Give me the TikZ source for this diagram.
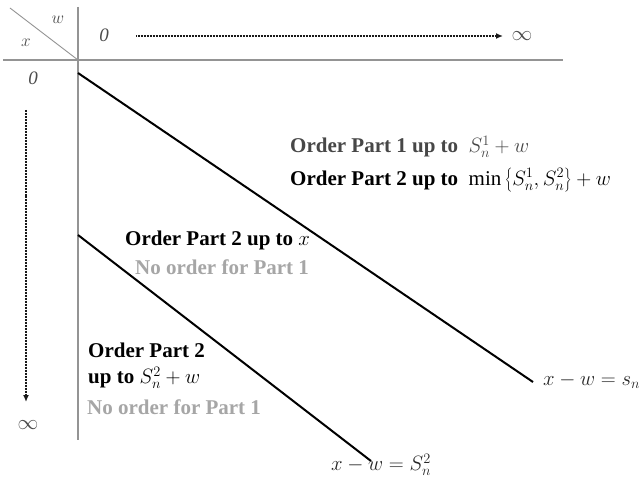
\documentclass[tikz,border=0pt]{standalone}
\usepackage{fontspec}
\setmainfont{Liberation Serif}
\usetikzlibrary{arrows.meta}
\begin{document}
\begin{tikzpicture}[x=1pt,y=-1pt,
  axis/.style={draw=black!42, line width=1.4pt},
  diag/.style={draw=black, line width=2pt},
  dotarrow/.style={draw=black!90, line width=1.6pt, dash pattern=on 1pt off 0.5pt, -{Latex[length=7pt,width=6pt]}},
  hdr/.style={font=\fontsize{19}{21}\selectfont\itshape, text=black!70, inner sep=0pt},
  lbl/.style={font=\fontsize{21}{23}\selectfont\bfseries, anchor=west, inner sep=0pt},
  eq/.style={font=\fontsize{22}{24}\selectfont, anchor=west, inner sep=0pt, text=black!85},
  graytxt/.style={text=black!35}]
\clip (0,0) rectangle (644,486);
\fill[white] (0,0) rectangle (644,486);
% axes
\coordinate (hl) at (3,60); \coordinate (hr) at (563,60);
\coordinate (vt) at (78,7); \coordinate (vb) at (78,440);
\coordinate (c0) at (10,8); \coordinate (c1) at (78,60);
\draw[axis] (hl) -- (hr);
\draw[axis] (vt) -- (vb);
\draw[axis, line width=0.9pt] (c0) -- (c1);
% header
\node[hdr] (hw) at (58,20) {$w$};
\node[hdr] (hx) at (26,43) {$x$};
\node[hdr] (h0) at (104,35) {0};
\node[hdr, font=\fontsize{20}{22}\selectfont] (hinf) at (522,36) {$\infty$};
\coordinate (ha) at (136,36); \coordinate (hb) at (503,36);
\draw[dotarrow] (ha) -- (hb);
% left column
\node[hdr] (v0) at (33,78) {0};
\node[hdr, font=\fontsize{20}{22}\selectfont] (vinf) at (28,425) {$\infty$};
\coordinate (va) at (26,110); \coordinate (vbb) at (26,402);
\draw[dotarrow] (va) -- (vbb);
% diagonal lines
\coordinate (d1s) at (78,73); \coordinate (d1e) at (533,382);
\coordinate (d2s) at (78,235); \coordinate (d2e) at (371,461);
\draw[diag] (d1s) -- (d1e);
\draw[diag] (d2s) -- (d2e);
\node[eq] (e1) at (543,381) {$x - w = s_n$};
\node[eq] (e2) at (331,465) {$x - w = S_n^2$};
% region texts
\node[lbl, text=black!72] (t1) at (290,147) {Order Part 1 up to \ $S_n^1 + w$};
\node[lbl] (t2) at (290,180) {Order Part 2 up to \ $\min\left\{S_n^1, S_n^2\right\} + w$};
\node[lbl] (t3) at (125,240) {Order Part 2 up to $x$};
\node[lbl, graytxt] (t4) at (135,267) {No order for Part 1};
\node[lbl] (t5) at (88,350) {Order Part 2};
\node[lbl] (t6) at (88,378) {up to $S_n^2 + w$};
\node[lbl, graytxt] (t7) at (87,407) {No order for Part 1};
\end{tikzpicture}
\end{document}
